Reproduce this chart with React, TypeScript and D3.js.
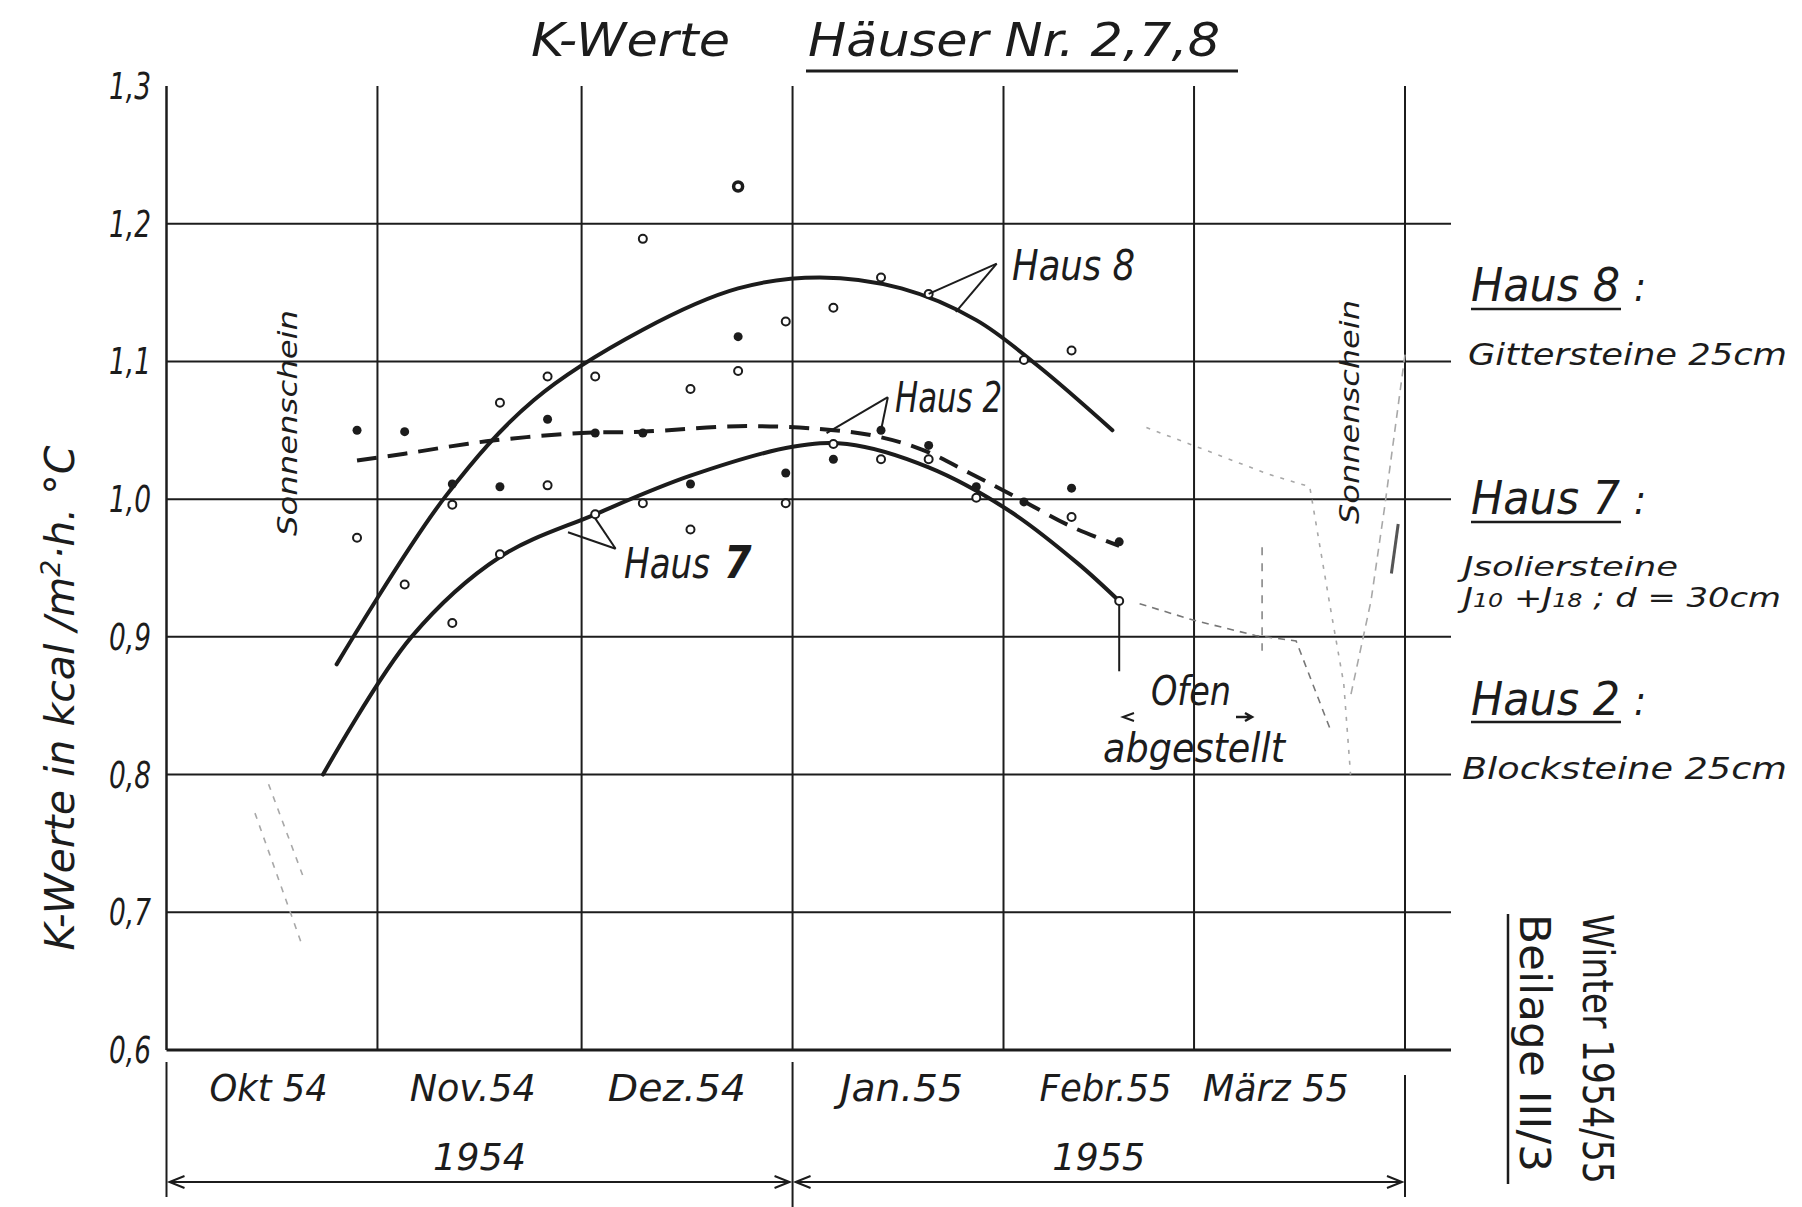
import React from "react";
import * as d3 from "d3";

const W = 1802;
const H = 1207;
const FONT = "'DejaVu Sans Condensed', 'DejaVu Sans', sans-serif";
const INK = "#1c1c1c";
const FAINT = "#a8a8a8";

// ---- axes ----
const yTicks = [0.6, 0.7, 0.8, 0.9, 1.0, 1.1, 1.2, 1.3];
const yTickLabels = ["0,6", "0,7", "0,8", "0,9", "1,0", "1,1", "1,2", "1,3"];
const monthStarts = ["1954-10-01", "1954-11-01", "1954-12-01", "1955-01-01", "1955-02-01", "1955-03-01", "1955-04-01"];
const monthLabels = ["Okt 54", "Nov.54", "Dez.54", "Jan.55", "Febr.55", "März 55"];
const monthLabelDates = ["1954-10-16", "1954-11-15", "1954-12-15", "1955-01-17", "1955-02-16", "1955-03-13"];
const monthLabelWidths = [118, 126, 138, 123, 132, 146];
const yearLabels = ["1954", "1955"];
const yearBounds = ["1954-10-01", "1955-01-01", "1955-04-01"];

// ---- weekly measurements ----
const weekDates = [
  "1954-10-29", "1954-11-05", "1954-11-12", "1954-11-19", "1954-11-26", "1954-12-03",
  "1954-12-10", "1954-12-17", "1954-12-24", "1954-12-31", "1955-01-07", "1955-01-14",
  "1955-01-21", "1955-01-28", "1955-02-04", "1955-02-11", "1955-02-18",
];
// filled dots (Haus 2)
const haus2Dots = [1.05, 1.049, 1.011, 1.009, 1.058, 1.048, 1.048, 1.011, 1.118, 1.019, 1.029, 1.05, 1.039, 1.009, 0.998, 1.008, 0.969];
// open circles, upper group (Haus 8)
const haus8Circles = [0.972, 0.938, 0.996, 1.07, 1.089, 1.089, 1.189, 1.08, null, 1.129, 1.139, 1.161, 1.149, null, 1.101, 1.108, null];
// open circles, lower group (Haus 7)
const haus7Circles = [null, null, 0.91, 0.96, 1.01, 0.989, 0.997, 0.978, 1.093, 0.997, 1.04, 1.029, 1.029, 1.001, null, 0.987, 0.926];
// heavy circle
const heavyDates = ["1954-12-24"];
const heavyValues = [1.227];

// ---- hand-drawn fitted curves ----
const haus8CurveDates = ["1954-10-26", "1954-11-11", "1954-11-24", "1954-12-10", "1954-12-24", "1955-01-05", "1955-01-17", "1955-01-28", "1955-02-06", "1955-02-17"];
const haus8CurveValues = [0.88, 1.002, 1.072, 1.123, 1.153, 1.161, 1.153, 1.13, 1.097, 1.05];
const haus7CurveDates = ["1954-10-24", "1954-11-06", "1954-11-19", "1954-12-03", "1954-12-17", "1955-01-01", "1955-01-09", "1955-01-21", "1955-02-02", "1955-02-12", "1955-02-18"];
const haus7CurveValues = [0.8, 0.9, 0.958, 0.989, 1.017, 1.038, 1.04, 1.023, 0.991, 0.953, 0.926];
const haus2CurveDates = ["1954-10-29", "1954-11-05", "1954-11-17", "1954-12-01", "1954-12-10", "1954-12-24", "1955-01-05", "1955-01-13", "1955-01-20", "1955-01-27", "1955-02-03", "1955-02-11", "1955-02-18"];
const haus2CurveValues = [1.028, 1.033, 1.042, 1.048, 1.049, 1.053, 1.051, 1.046, 1.036, 1.019, 1.001, 0.98, 0.966];

// ---- faint pencil traces ----
const faintADates = ["1955-02-21", "1955-03-01", "1955-03-10", "1955-03-16", "1955-03-21"];
const faintAValues = [0.924, 0.912, 0.901, 0.897, 0.833];
const faintBDates = ["1955-02-22", "1955-03-12", "1955-03-18", "1955-03-19", "1955-03-21", "1955-03-23", "1955-03-24"];
const faintBValues = [1.052, 1.018, 1.009, 0.98, 0.922, 0.866, 0.8];
const faintCDates = ["1955-04-01", "1955-03-29", "1955-03-27", "1955-03-24"];
const faintCValues = [1.105, 0.994, 0.926, 0.857];
const faintDDates = ["1955-03-30", "1955-03-31"];
const faintDValues = [0.946, 0.982];
const faintEDates = ["1955-03-11", "1955-03-11"];
const faintEValues = [0.965, 0.89];
const faintL1Dates = ["1954-10-16", "1954-10-21"];
const faintL1Values = [0.793, 0.727];
const faintL2Dates = ["1954-10-14", "1954-10-21"];
const faintL2Values = [0.772, 0.675];

export default function App() {
  const parse = d3.timeParse("%Y-%m-%d");
  const x = d3.scaleTime().domain([parse("1954-10-01")!, parse("1955-04-01")!]).range([166.5, 1405]);
  const y = d3.scaleLinear().domain([0.6, 1.3]).range([1050, 86]);
  const gridRight = 1451;
  const left = x.range()[0];

  const X = (d: string) => x(parse(d)!);

  const curve = (dates: string[], vals: number[], c = d3.curveCatmullRom.alpha(0.5)) =>
    d3.line<number>().x((_, i) => X(dates[i])).y((v) => y(v)).curve(c)(vals) || "";

  const poly = (dates: string[], vals: number[]) =>
    d3.line<number>().x((_, i) => X(dates[i])).y((v) => y(v))(vals) || "";

  const textBase = { fontFamily: FONT, fill: INK, fontStyle: "italic" as const };

  const arrowHead = (px: number, py: number, dir: number) =>
    `M${px + dir * 15},${py - 6} L${px},${py} L${px + dir * 15},${py + 6}`;

  // pointer annotations (data space)
  const ptr = (a: [string, number], b: [string, number]) =>
    `M${X(a[0])},${y(a[1])} L${X(b[0])},${y(b[1])}`;

  return (
    <svg width={W} height={H} style={{ position: "absolute", left: 0, top: 0, background: "#fff" }}>
      <rect x={0} y={0} width={W} height={H} fill="#fff" />

      {/* Title */}
      <text {...textBase} x={531} y={56} fontSize={46} textLength={199} lengthAdjust="spacingAndGlyphs">
        K-Werte
      </text>
      <text {...textBase} x={808} y={56} fontSize={46} textLength={412} lengthAdjust="spacingAndGlyphs">
        Häuser Nr. 2,7,8
      </text>
      <line x1={806} x2={1238} y1={71} y2={71} stroke={INK} strokeWidth={3} />

      {/* horizontal grid */}
      {yTicks.filter((t) => t < 1.3).map((t) => (
        <line key={"h" + t} x1={left} x2={gridRight} y1={y(t)} y2={y(t)} stroke={INK} strokeWidth={t === 0.6 ? 3 : 2} />
      ))}
      {/* vertical month lines */}
      {monthStarts.map((m, i) => (
        <line key={"v" + m} x1={X(m)} x2={X(m)} y1={y(1.3)} y2={y(0.6)} stroke={INK} strokeWidth={i === 0 ? 2.5 : 2} />
      ))}

      {/* y tick labels */}
      {yTicks.map((t, i) => (
        <text key={"yl" + t} {...textBase} x={151} y={y(t) + 13} fontSize={38} textAnchor="end" textLength={42} lengthAdjust="spacingAndGlyphs">
          {yTickLabels[i]}
        </text>
      ))}

      {/* y axis title */}
      <text
        {...textBase}
        transform={`translate(74,${(954 + 442) / 2}) rotate(-90)`}
        fontSize={40}
        textAnchor="middle"
        textLength={505}
        lengthAdjust="spacingAndGlyphs"
      >
        K-Werte  in kcal /m<tspan dy={-14} fontSize={26}>2</tspan>
        <tspan dy={14}>·h. °C</tspan>
      </text>

      {/* bottom month labels */}
      {monthLabels.map((lab, i) => (
        <text key={lab} {...textBase} x={X(monthLabelDates[i])} y={1101} fontSize={38} textAnchor="middle" textLength={monthLabelWidths[i]} lengthAdjust="spacingAndGlyphs">
          {lab}
        </text>
      ))}

      {/* year separators and arrows */}
      {yearBounds.map((d, i) => (
        <line key={"ys" + d} x1={X(d)} x2={X(d)} y1={i === 2 ? 1075 : 1062} y2={i === 1 ? 1207 : 1197} stroke={INK} strokeWidth={2} />
      ))}
      {yearLabels.map((lab, i) => {
        const a = X(yearBounds[i]);
        const b = X(yearBounds[i + 1]);
        return (
          <g key={lab}>
            <text {...textBase} x={(a + b) / 2} y={1170} fontSize={38} textAnchor="middle" textLength={93} lengthAdjust="spacingAndGlyphs">
              {lab}
            </text>
            <line x1={a + 3} x2={b - 3} y1={1182} y2={1182} stroke={INK} strokeWidth={2} />
            <path d={arrowHead(a + 3, 1182, 1)} fill="none" stroke={INK} strokeWidth={2} />
            <path d={arrowHead(b - 3, 1182, -1)} fill="none" stroke={INK} strokeWidth={2} />
          </g>
        );
      })}

      {/* faint pencil traces */}
      <g fill="none" stroke={FAINT} strokeWidth={1.6}>
        <path d={poly(faintADates, faintAValues)} strokeDasharray="7 6" stroke="#777" />
        <path d={poly(faintBDates, faintBValues)} strokeDasharray="4 7" />
        <path d={poly(faintCDates, faintCValues)} strokeDasharray="8 6" />
        <path d={poly(faintDDates, faintDValues)} stroke="#555" strokeWidth={3} />
        <path d={poly(faintEDates, faintEValues)} strokeDasharray="8 8" stroke="#888" />
        <path d={poly(faintL1Dates, faintL1Values)} strokeDasharray="6 7" />
        <path d={poly(faintL2Dates, faintL2Values)} strokeDasharray="6 7" />
      </g>

      {/* fitted curves */}
      <path d={curve(haus8CurveDates, haus8CurveValues)} fill="none" stroke={INK} strokeWidth={4} strokeLinecap="round" />
      <path d={curve(haus7CurveDates, haus7CurveValues)} fill="none" stroke={INK} strokeWidth={4} strokeLinecap="round" />
      <path d={curve(haus2CurveDates, haus2CurveValues)} fill="none" stroke={INK} strokeWidth={4} strokeDasharray="20 11" />

      {/* tick below last Haus 7 point */}
      <line x1={X("1955-02-18")} x2={X("1955-02-18")} y1={y(0.926)} y2={y(0.875)} stroke={INK} strokeWidth={2} />

      {/* data points */}
      {weekDates.map((d, i) => (
        <g key={"p" + d}>
          {haus2Dots[i] != null && <circle cx={X(d)} cy={y(haus2Dots[i] as number)} r={4.5} fill={INK} />}
          {haus8Circles[i] != null && (
            <circle cx={X(d)} cy={y(haus8Circles[i] as number)} r={4} fill="#fff" stroke={INK} strokeWidth={2} />
          )}
          {haus7Circles[i] != null && (
            <circle cx={X(d)} cy={y(haus7Circles[i] as number)} r={4} fill="#fff" stroke={INK} strokeWidth={2} />
          )}
        </g>
      ))}
      {heavyDates.map((d, i) => (
        <circle key={"hv" + d} cx={X(d)} cy={y(heavyValues[i])} r={4.5} fill="#fff" stroke={INK} strokeWidth={3.5} />
      ))}

      {/* in-chart labels with pointers */}
      <g fill="none" stroke={INK} strokeWidth={2}>
        <path d={ptr(["1955-01-31", 1.171], ["1955-01-21", 1.149])} />
        <path d={ptr(["1955-01-31", 1.171], ["1955-01-25", 1.136])} />
        <path d={ptr(["1955-01-15", 1.074], ["1955-01-06", 1.048])} />
        <path d={ptr(["1955-01-15", 1.074], ["1955-01-14", 1.05])} />
        <path d={ptr(["1954-12-06", 0.964], ["1954-11-29", 0.976])} />
        <path d={ptr(["1954-12-06", 0.964], ["1954-12-03", 0.986])} />
      </g>
      <text {...textBase} x={1012} y={280} fontSize={42} textLength={123} lengthAdjust="spacingAndGlyphs">
        Haus 8
      </text>
      <text {...textBase} x={895} y={412} fontSize={42} textLength={107} lengthAdjust="spacingAndGlyphs">
        Haus 2
      </text>
      <text {...textBase} x={624} y={578} fontSize={42} textLength={86} lengthAdjust="spacingAndGlyphs">
        Haus
      </text>
      <text {...textBase} x={724} y={578} fontSize={44} fontWeight="bold">
        7
      </text>

      {/* Sonnenschein notes */}
      <text {...textBase} transform="translate(297,536) rotate(-90)" fontSize={27} textLength={226} lengthAdjust="spacingAndGlyphs">
        Sonnenschein
      </text>
      <text {...textBase} transform="translate(1359,524) rotate(-90)" fontSize={27} textLength={224} lengthAdjust="spacingAndGlyphs">
        Sonnenschein
      </text>

      {/* Ofen abgestellt */}
      <text {...textBase} x={1151} y={705} fontSize={40} textLength={80} lengthAdjust="spacingAndGlyphs">
        Ofen
      </text>
      <text {...textBase} x={1103} y={762} fontSize={40} textLength={182} lengthAdjust="spacingAndGlyphs">
        abgestellt
      </text>
      <path d="M1134,713 L1123,717 L1134,721" fill="none" stroke={INK} strokeWidth={2} />
      <path d="M1236,717 L1252,717 M1245,713 L1252,717 L1245,721" fill="none" stroke={INK} strokeWidth={2.5} />

      {/* right side legend */}
      <g>
        <text {...textBase} x={1471} y={301} fontSize={46} textLength={149} lengthAdjust="spacingAndGlyphs">Haus 8</text>
        <text {...textBase} x={1634} y={301} fontSize={40}>:</text>
        <line x1={1471} x2={1621} y1={309} y2={309} stroke={INK} strokeWidth={2.5} />
        <text {...textBase} x={1468} y={365} fontSize={31} textLength={319} lengthAdjust="spacingAndGlyphs">Gittersteine 25cm</text>

        <text {...textBase} x={1471} y={514} fontSize={46} textLength={149} lengthAdjust="spacingAndGlyphs">Haus 7</text>
        <text {...textBase} x={1634} y={514} fontSize={40}>:</text>
        <line x1={1471} x2={1621} y1={522} y2={522} stroke={INK} strokeWidth={2.5} />
        <text {...textBase} x={1463} y={576} fontSize={27} textLength={215} lengthAdjust="spacingAndGlyphs">Jsoliersteine</text>
        <text {...textBase} x={1463} y={607} fontSize={27} textLength={318} lengthAdjust="spacingAndGlyphs">
          J<tspan fontSize={19}>10</tspan> +J<tspan fontSize={19}>18</tspan> ; d = 30cm
        </text>

        <text {...textBase} x={1471} y={715} fontSize={46} textLength={149} lengthAdjust="spacingAndGlyphs">Haus 2</text>
        <text {...textBase} x={1634} y={715} fontSize={40}>:</text>
        <line x1={1471} x2={1621} y1={722} y2={722} stroke={INK} strokeWidth={2.5} />
        <text {...textBase} x={1462} y={779} fontSize={31} textLength={325} lengthAdjust="spacingAndGlyphs">Blocksteine 25cm</text>
      </g>

      {/* Winter / Beilage */}
      <text fontFamily={FONT} fill={INK} transform="translate(1583,914) rotate(90)" fontSize={42} textLength={270} lengthAdjust="spacingAndGlyphs">
        Winter 1954/55
      </text>
      <text fontFamily={FONT} fill={INK} transform="translate(1520,914) rotate(90)" fontSize={42} textLength={258} lengthAdjust="spacingAndGlyphs">
        Beilage III/3
      </text>
      <line x1={1508} x2={1508} y1={914} y2={1184} stroke={INK} strokeWidth={2.5} />
    </svg>
  );
}
